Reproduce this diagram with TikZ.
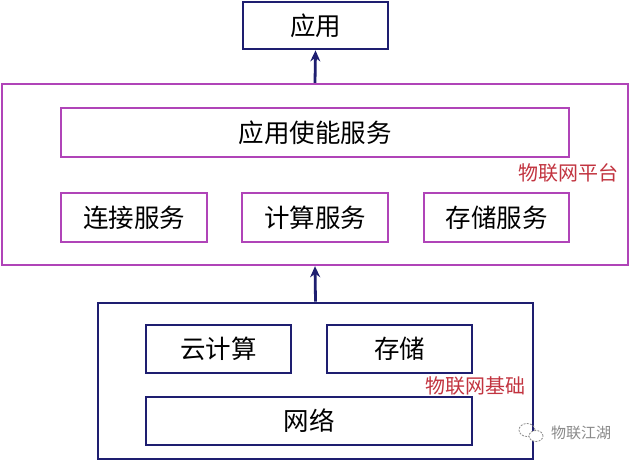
\documentclass[tikz,border=0pt]{standalone}
\usepackage{fontspec}
\newfontfamily\cjk{Noto Sans CJK SC}
\usetikzlibrary{arrows.meta}
\definecolor{navy}{HTML}{1E1E70}
\definecolor{mag}{HTML}{B044B8}
\definecolor{lblred}{HTML}{C23440}
\definecolor{wm}{HTML}{8A8A8A}
\tikzset{
  bluebox/.style={draw=navy, line width=2.8pt, inner sep=0pt, fill=white, font=\cjk\fontsize{25.5}{30}\selectfont},
  magbox/.style={draw=mag, line width=2.4pt, inner sep=0pt, font=\cjk\fontsize{25.5}{30}\selectfont},
  lbl/.style={text=lblred, inner sep=0pt, font=\cjk\fontsize{20}{24}\selectfont},
  uparrow/.style={draw=navy, line width=2.8pt, -{Stealth[length=11pt,width=10pt]}},
}
\begin{document}
\begin{tikzpicture}[x=1pt,y=-1pt]
\useasboundingbox[fill=white] (0,0) rectangle (631,461);
% top
\node[bluebox, minimum width=145pt, minimum height=47pt] (app) at (315.5,25.5) {应用};
% platform
\node[magbox, minimum width=626pt, minimum height=181pt] (plat) at (315,174.5) {};
\node[magbox, minimum width=508pt, minimum height=49pt] (aep) at (315,132.5) {应用使能服务};
\node[magbox, minimum width=146pt, minimum height=49pt] (conn) at (134,217.5) {连接服务};
\node[magbox, minimum width=146pt, minimum height=49pt] (comp) at (315,217.5) {计算服务};
\node[magbox, minimum width=145pt, minimum height=49pt] (stor) at (496.5,217.5) {存储服务};
\node[lbl] (platlbl) at (568,173) {物联网平台};
% base
\node[bluebox, minimum width=435pt, minimum height=156pt] (base) at (315.5,381) {};
\node[bluebox, minimum width=145pt, minimum height=48pt] (cloud) at (218.5,349) {云计算};
\node[bluebox, minimum width=145pt, minimum height=48pt] (store) at (399.5,349) {存储};
\node[bluebox, minimum width=326pt, minimum height=48pt] (net) at (309,421) {网络};
\node[lbl] (baselbl) at (475,386) {物联网基础};
% arrows
\draw[uparrow] (plat.north) -- (app.south);
\draw[uparrow] (base.north) -- (plat.south);
% watermark
\draw[wm, line width=0.8pt, dash pattern=on 2pt off 1.2pt] (527,430) ellipse (8pt and 6.5pt);
\draw[wm, line width=0.8pt, dash pattern=on 2pt off 1.2pt, fill=white] (536,436) ellipse (7pt and 5.5pt);
\node[text=wm, inner sep=0pt, font=\cjk\fontsize{15}{18}\selectfont] (wmtext) at (581,433) {物联江湖};
\end{tikzpicture}
\end{document}
